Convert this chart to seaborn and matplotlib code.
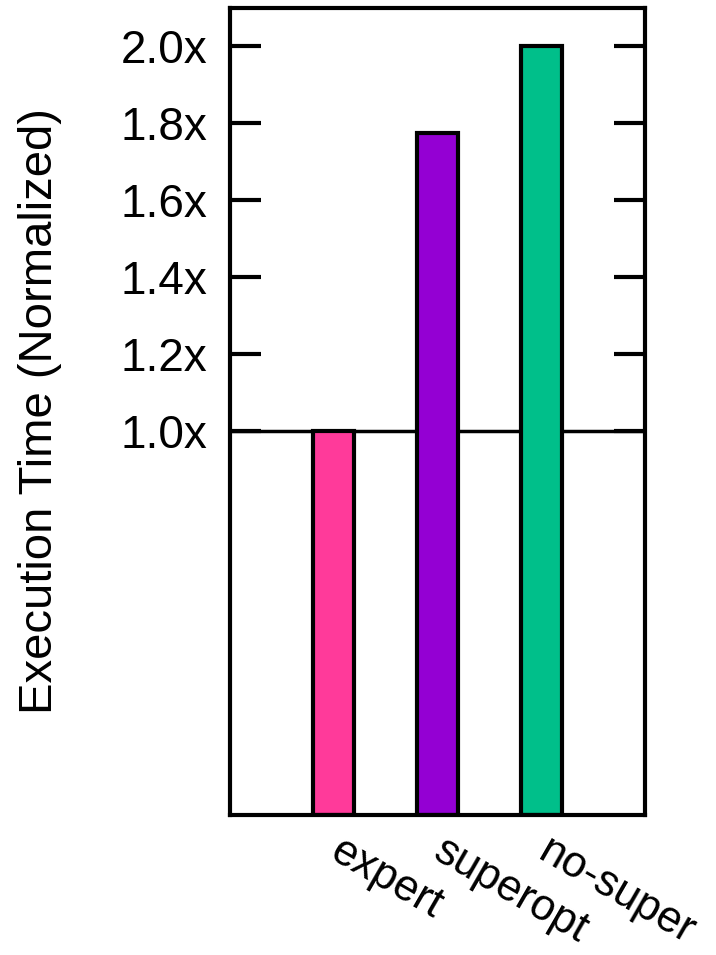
import numpy as np
import pandas as pd
import matplotlib
matplotlib.use('Agg')
import matplotlib.pyplot as plt
import seaborn as sns

# datos
categories = ['expert', 'superopt', 'no-super']
times = [1.0, 1.775, 2.0]
colors = ['#ff3a9a', '#9400d3', '#00bf8a']
ytick_vals = [1.0, 1.2, 1.4, 1.6, 1.8, 2.0]
ytick_labels = ['1.0x', '1.2x', '1.4x', '1.6x', '1.8x', '2.0x']

sns.set_theme(style='white')
plt.rcParams['font.family'] = ['Liberation Sans', 'DejaVu Sans']

df = pd.DataFrame({'config': categories, 'time': times})

fig = plt.figure(figsize=(7.16, 9.55), dpi=100)
ax = fig.add_axes([0.321, 0.1466, 0.58, 0.845])

ax.axhline(1.0, color='black', lw=2.5, zorder=0)
sns.barplot(data=df, x='config', y='time', hue='config', palette=colors, saturation=1,
            width=0.39, edgecolor='black', linewidth=3, legend=False, ax=ax, zorder=2)

ax.set_xlim(-1, 3)
ax.set_ylim(0, 2.1)
ax.set_yticks(ytick_vals)
ax.set_yticklabels(ytick_labels, fontsize=33, color='black')
ax.tick_params(axis='y', direction='in', length=22, width=3, color='black',
               left=True, right=True, pad=16)
ax.tick_params(axis='x', length=0, pad=24)
ax.set_xticks(range(len(categories)))
ax.set_xticklabels(categories, fontsize=31.5, color='black', rotation=-30,
                   ha='left', va='center', rotation_mode='anchor')
ax.set_xlabel('')
ax.set_ylabel('Execution Time (Normalized)', fontsize=34, color='black')
ax.yaxis.set_label_coords(-0.405, 0.5)

for s in ax.spines.values():
    s.set_color('black')
    s.set_linewidth(3)

fig.savefig('out.png', dpi=100)
